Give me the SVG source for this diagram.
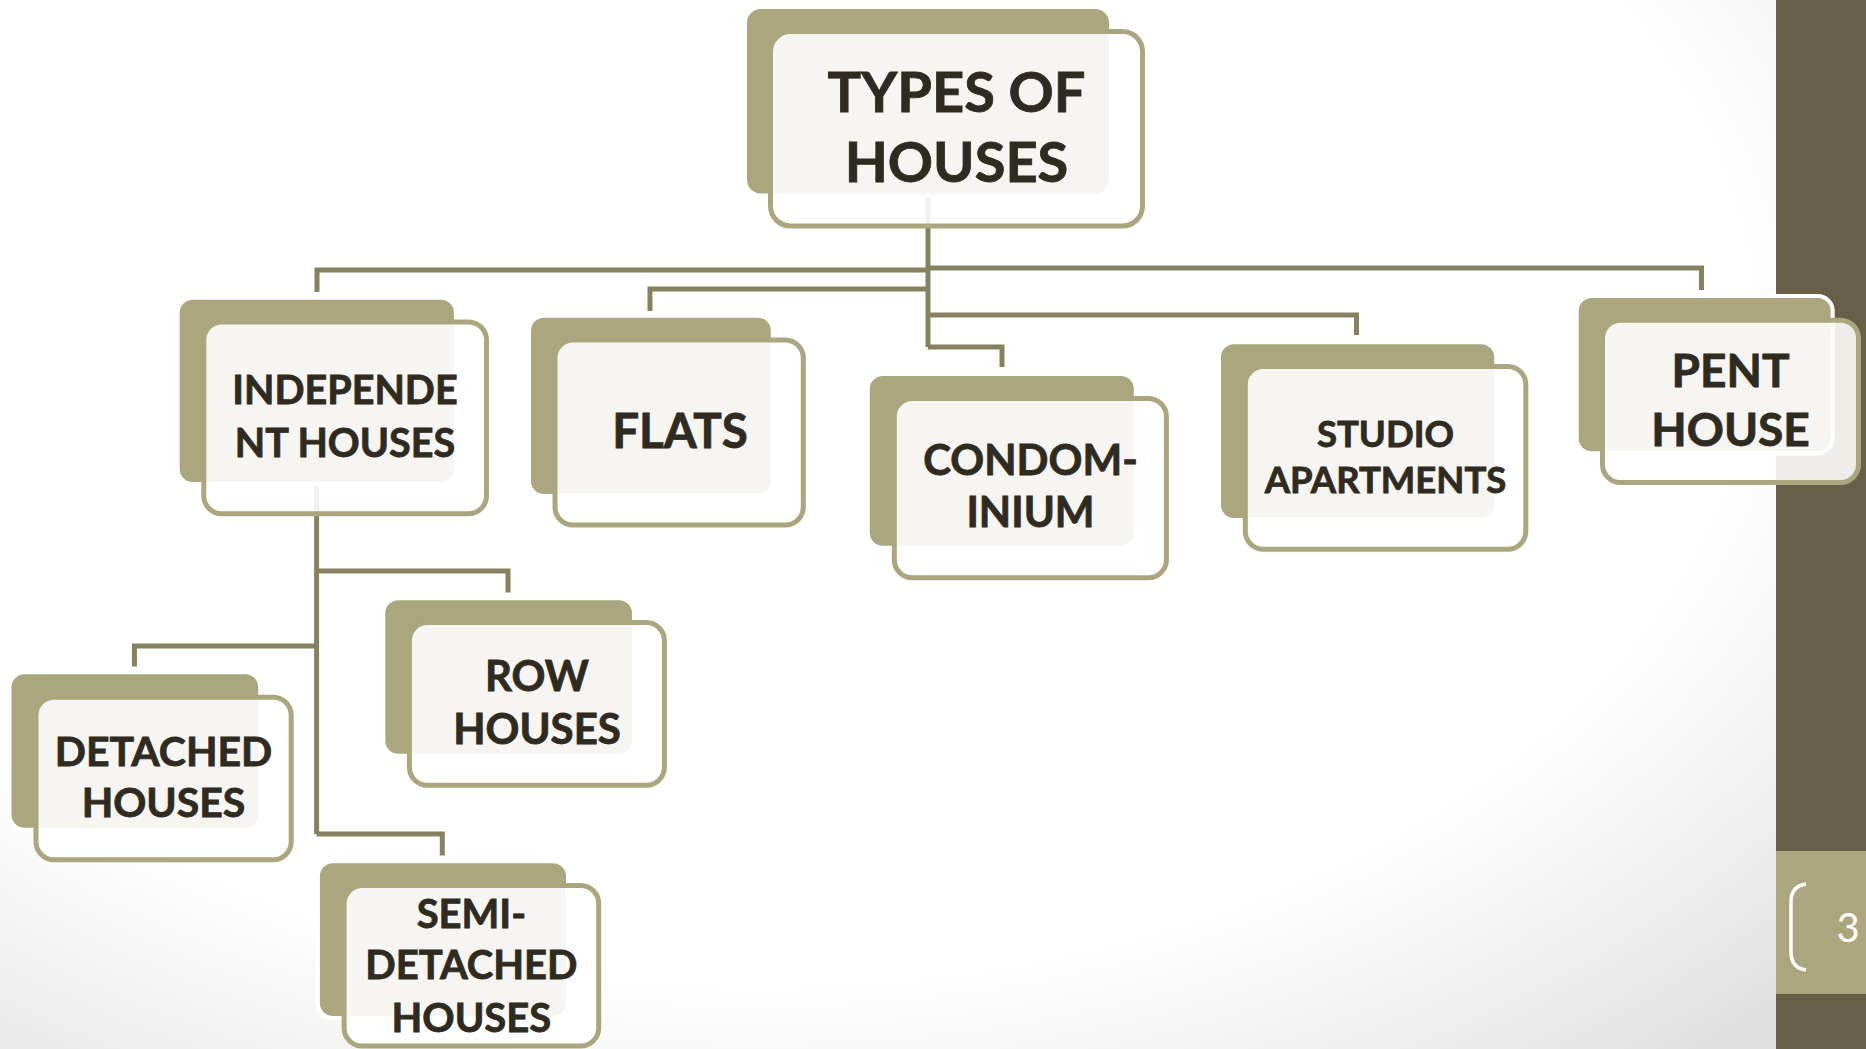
<svg xmlns="http://www.w3.org/2000/svg" width="1866" height="1049" viewBox="0 0 1866 1049">
<defs>
<radialGradient id="bg" cx="0" cy="0" r="1" gradientUnits="userSpaceOnUse" gradientTransform="translate(760,330) scale(1437,950)">
<stop offset="0" stop-color="#ffffff"/>
<stop offset="0.68" stop-color="#ffffff"/>
<stop offset="0.85" stop-color="#f1f1f1"/>
<stop offset="1" stop-color="#e0e0e0"/>
</radialGradient>
<style>
.back{fill:#aba67e;stroke:#ffffff;stroke-width:4}
.front{fill:#ffffff;fill-opacity:0.89;stroke:#aba67e;stroke-width:5}
.conn{fill:none;stroke:#86815f;stroke-width:5;stroke-linejoin:miter;stroke-linecap:butt}
.lbl{font-family:Lato,"Liberation Sans",sans-serif;font-weight:700;fill:#2f2b20;stroke:#2f2b20;stroke-width:0.8;text-anchor:middle}
</style>
</defs>
<rect x="0" y="0" width="1866" height="1049" fill="url(#bg)"/>
<g id="sidebar">
<rect x="1776" y="0" width="90" height="1049" fill="#675f48"/>
<rect x="1776" y="851" width="90" height="143" fill="#aba67e"/>
<path d="M1806,884 Q1791,886 1791,902 V952 Q1791,968 1806,970" fill="none" stroke="#ffffff" stroke-width="3.5"/>
<text x="1848" y="942" font-family="Lato,'Liberation Sans',sans-serif" font-size="40" fill="#ffffff" text-anchor="middle">3</text>
</g>
<g id="connectors">
<path class="conn" d="M928,196 V347"/>
<path class="conn" d="M928,270 H317 V292"/>
<path class="conn" d="M928,289 H650 V311"/>
<path class="conn" d="M928,268 H1701.5 V290"/>
<path class="conn" d="M928,315 H1356.5 V335"/>
<path class="conn" d="M928,347 H1002 V367"/>
<path class="conn" d="M316.6,484 V834"/>
<path class="conn" d="M316.6,571 H508 V592.5"/>
<path class="conn" d="M316.6,646 H134.4 V666.5"/>
<path class="conn" d="M316.6,834 H442.3 V855.5"/>
</g>
<g id="node-types">
<rect class="back" x="745" y="7" width="366" height="188.6" rx="16"/>
<rect class="front" x="770.5" y="31.5" width="372" height="194.5" rx="20"/>
<text class="lbl" font-size="56"><tspan x="956.5" y="112">TYPES OF</tspan><tspan x="956.5" y="182">HOUSES</tspan></text>
</g>
<g id="node-independent">
<rect class="back" x="177.7" y="297.7" width="278.2" height="186.3" rx="15"/>
<rect class="front" x="203.8" y="322" width="282.7" height="191.8" rx="18"/>
<text class="lbl" font-size="39.5"><tspan x="345" y="404">INDEPENDE</tspan><tspan x="345" y="457.3">NT HOUSES</tspan></text>
</g>
<g id="node-flats">
<rect class="back" x="529" y="315.7" width="243.8" height="180.3" rx="15"/>
<rect class="front" x="555" y="340" width="248.3" height="185" rx="18"/>
<text class="lbl" font-size="47.5" x="680" y="448">FLATS</text>
</g>
<g id="node-condominium">
<rect class="back" x="867.8" y="374" width="268" height="173.7" rx="15"/>
<rect class="front" x="894.3" y="398.5" width="272.1" height="179.2" rx="18"/>
<text class="lbl" font-size="42"><tspan x="1030.5" y="475">CONDOM-</tspan><tspan x="1030.5" y="527.3">INIUM</tspan></text>
</g>
<g id="node-studio">
<rect class="back" x="1219" y="342.3" width="277.2" height="177.7" rx="15"/>
<rect class="front" x="1245.3" y="366.5" width="280.5" height="182.7" rx="18"/>
<text class="lbl" font-size="36.5"><tspan x="1385.5" y="446.7">STUDIO</tspan><tspan x="1385.5" y="492.7">APARTMENTS</tspan></text>
</g>
<g id="node-penthouse">
<rect class="back" x="1576.7" y="296" width="256" height="157.3" rx="15"/>
<rect class="front" x="1602.5" y="320.2" width="256" height="162.3" rx="18"/>
<text class="lbl" font-size="46"><tspan x="1730.5" y="387.3">PENT</tspan><tspan x="1730.5" y="446">HOUSE</tspan></text>
</g>
<g id="node-detached">
<rect class="back" x="9.5" y="672.3" width="250.7" height="157.4" rx="15"/>
<rect class="front" x="36" y="697.2" width="255.2" height="162.6" rx="18"/>
<text class="lbl" font-size="41"><tspan x="163.5" y="766.1">DETACHED</tspan><tspan x="163.5" y="817">HOUSES</tspan></text>
</g>
<g id="node-row">
<rect class="back" x="383.3" y="598.3" width="250.7" height="157.5" rx="15"/>
<rect class="front" x="409.4" y="622.6" width="255" height="162.6" rx="18"/>
<text class="lbl" font-size="42"><tspan x="537" y="691.2">ROW</tspan><tspan x="537" y="743.8">HOUSES</tspan></text>
</g>
<g id="node-semi">
<rect class="back" x="317.9" y="861.3" width="250.1" height="156.7" rx="15"/>
<rect class="front" x="344.1" y="885.6" width="254.6" height="160.4" rx="18"/>
<text class="lbl" font-size="40"><tspan x="471.4" y="927.7">SEMI-</tspan><tspan x="471.4" y="979.2">DETACHED</tspan><tspan x="471.4" y="1031.8">HOUSES</tspan></text>
</g>
</svg>
